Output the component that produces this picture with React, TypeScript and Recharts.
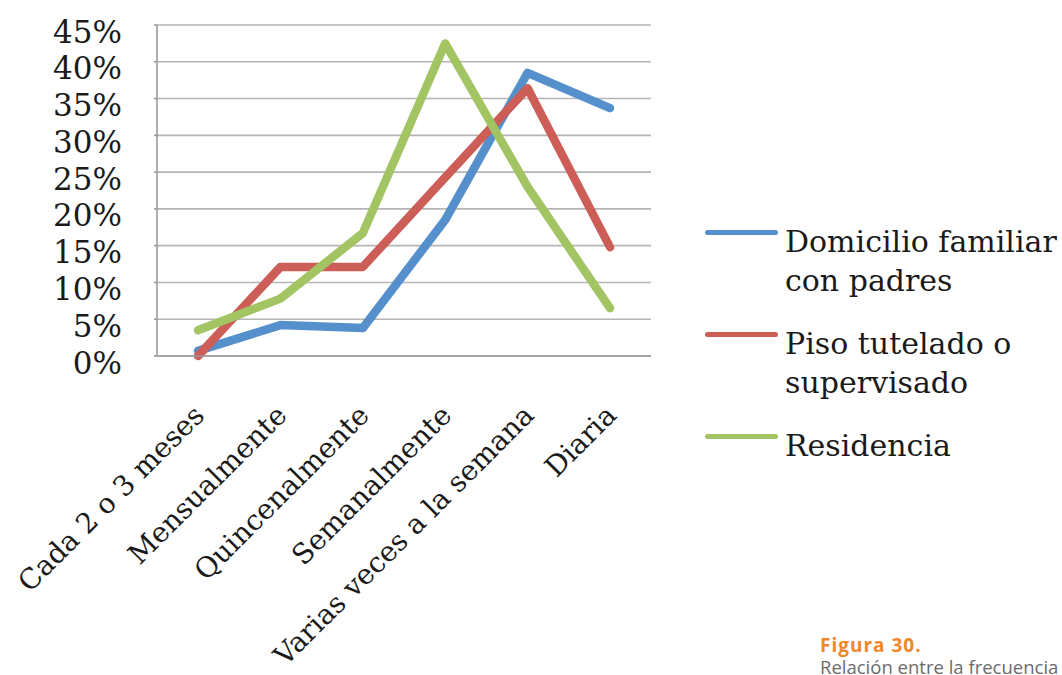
import React from 'react';
import { LineChart, Line, XAxis, YAxis, CartesianGrid, Legend } from 'recharts';

document.body.style.margin = '0';

const categories = [
  'Cada 2 o 3 meses',
  'Mensualmente',
  'Quincenalmente',
  'Semanalmente',
  'Varias veces a la semana',
  'Diaria',
];
const domicilio = [0.7, 4.2, 3.8, 18.5, 38.5, 33.7];
const piso = [0, 12.1, 12.1, 24.3, 36.4, 14.8];
const residencia = [3.5, 7.8, 16.7, 42.5, 23, 6.5];
const yTicks = [0, 5, 10, 15, 20, 25, 30, 35, 40, 45];

const seriesKeys = ['domicilio', 'piso', 'residencia'];
const seriesNames = ['Domicilio familiar con padres', 'Piso tutelado o supervisado', 'Residencia'];
const legendLines = [['Domicilio familiar', 'con padres'], ['Piso tutelado o', 'supervisado'], ['Residencia']];
const colors = ['#5690cc', '#cc5e57', '#a2c463'];

const data = categories.map((c, i) => ({
  cat: c,
  domicilio: domicilio[i],
  piso: piso[i],
  residencia: residencia[i],
}));

const serif = '"DejaVu Serif", serif';

function YTick({ x, y, payload }: any) {
  return (
    <text x={x} y={y + 17.5} textAnchor="end" fontFamily={serif} fontSize={31} fill="#1a1a1a">
      {payload.value}%
    </text>
  );
}

function XTick({ x, y, payload }: any) {
  const tx = x + 8;
  return (
    <text
      x={tx}
      y={y}
      textAnchor="end"
      fontFamily={serif}
      fontSize={28}
      fill="#1a1a1a"
      transform={`rotate(-45, ${tx}, ${y})`}
    >
      {payload.value}
    </text>
  );
}

function LegendBox() {
  return (
    <div style={{ fontFamily: serif, fontSize: 30, color: '#1a1a1a', lineHeight: '39px' }}>
      {legendLines.map((lines, i) => (
        <div key={i} style={{ display: 'flex', alignItems: 'flex-start', marginBottom: 24 }}>
          <div
            style={{
              width: 73,
              height: 5,
              borderRadius: 3,
              background: colors[i],
              marginTop: 7.5,
              marginRight: 7,
              flex: 'none',
            }}
          />
          <div>
            {lines.map((l, j) => (
              <div key={j} style={{ whiteSpace: 'nowrap' }}>{l}</div>
            ))}
          </div>
        </div>
      ))}
    </div>
  );
}

export default function App() {
  return (
    <div style={{ position: 'relative', width: 1062, height: 675, background: '#fff', overflow: 'hidden' }}>
      <LineChart width={1062} height={675} data={data} margin={{ top: 25, right: 54, bottom: 0, left: 0 }}>
        <CartesianGrid vertical={false} stroke="#b5b5b5" strokeWidth={1.6} />
        <XAxis
          dataKey="cat"
          height={319}
          interval={0}
          padding={{ left: 41, right: 41 }}
          tickSize={0}
          tickMargin={61}
          tick={<XTick />}
          axisLine={{ stroke: '#9a9a9a', strokeWidth: 1.6 }}
          tickLine={false}
        />
        <YAxis
          domain={[0, 45]}
          ticks={yTicks}
          width={157}
          tickSize={3}
          tickMargin={32}
          tick={<YTick />}
          axisLine={{ stroke: '#9a9a9a', strokeWidth: 1.6 }}
          tickLine={{ stroke: '#9a9a9a', strokeWidth: 1.6 }}
          interval={0}
        />
        <Legend
          layout="vertical"
          align="right"
          verticalAlign="top"
          content={<LegendBox />}
          wrapperStyle={{ left: 705, top: 222, width: 357 }}
        />
        {seriesKeys.map((k, i) => (
          <Line
            key={k}
            type="linear"
            dataKey={k}
            name={seriesNames[i]}
            stroke={colors[i]}
            strokeWidth={8.5}
            strokeLinecap="round"
            strokeLinejoin="round"
            dot={false}
            activeDot={false}
            isAnimationActive={false}
          />
        ))}
      </LineChart>
      <div
        style={{
          position: 'absolute',
          left: 820,
          top: 634,
          fontFamily: '"Open Sans", sans-serif',
          lineHeight: '22px',
        }}
      >
        <div style={{ color: '#f0882a', fontWeight: 700, fontSize: 19, letterSpacing: 1 }}>Figura 30.</div>
        <div style={{ color: '#6b6b6b', whiteSpace: 'nowrap', fontSize: 18.5 }}>Relación entre la frecuencia</div>
      </div>
    </div>
  );
}
